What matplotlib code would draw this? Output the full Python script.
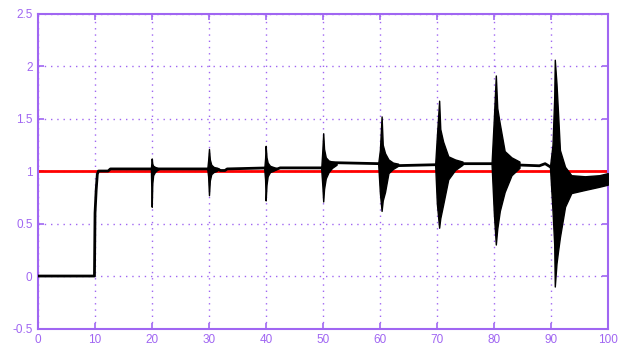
import matplotlib
matplotlib.use("Agg")
import matplotlib.pyplot as plt

# --- data ---
# reference (set point)
ref_t = [0, 100]
ref_y = [1.0, 1.0]

# slow response level between the disturbance bursts
base_t = [0, 9.9, 10.0, 10.2, 10.4, 10.6, 12.3, 12.7, 31.5, 32.0, 32.8, 33.2,
          40.5, 41.5, 42.5, 49.8, 51.5, 60.0, 62.0, 69.8, 72.0, 80.0, 83.0,
          88.0, 89.0, 89.9]
base_y = [0, 0, 0.60, 0.82, 0.97, 1.00, 1.00, 1.02, 1.02, 1.005, 1.005, 1.02,
          1.03, 1.01, 1.03, 1.03, 1.08, 1.07, 1.05, 1.06, 1.07, 1.07, 1.06,
          1.05, 1.07, 1.04]

# oscillation bursts: time, upper envelope, lower envelope
b20_t = [19.8, 19.95, 20.05, 20.2, 20.5, 20.9, 21.3]
b20_hi = [1.02, 1.12, 1.07, 1.05, 1.04, 1.03, 1.02]
b20_lo = [1.02, 0.66, 0.88, 0.96, 0.99, 1.01, 1.02]

b30_t = [29.7, 29.85, 30.0, 30.15, 30.4, 30.8, 31.3, 31.8]
b30_hi = [1.02, 1.10, 1.21, 1.11, 1.06, 1.04, 1.03, 1.02]
b30_lo = [1.02, 0.95, 0.77, 0.91, 0.97, 0.99, 1.00, 1.02]

b40_t = [39.7, 39.85, 39.95, 40.1, 40.3, 40.7, 41.2, 41.8]
b40_hi = [1.02, 1.12, 1.24, 1.13, 1.08, 1.05, 1.04, 1.03]
b40_lo = [1.02, 0.92, 0.72, 0.87, 0.95, 0.99, 1.00, 1.02]

b50_t = [49.7, 49.9, 50.05, 50.2, 50.5, 51.0, 51.6, 52.4]
b50_hi = [1.02, 1.20, 1.36, 1.21, 1.13, 1.10, 1.09, 1.08]
b50_lo = [1.02, 0.86, 0.71, 0.83, 0.93, 0.99, 1.03, 1.06]

b60_t = [59.7, 60.0, 60.3, 60.5, 60.9, 61.5, 62.3, 63.2]
b60_hi = [1.07, 1.20, 1.52, 1.25, 1.17, 1.11, 1.08, 1.07]
b60_lo = [1.07, 0.79, 0.62, 0.72, 0.80, 0.98, 1.02, 1.05]

b70_t = [69.7, 70.0, 70.4, 70.6, 71.1, 72.0, 73.2, 74.5]
b70_hi = [1.06, 1.33, 1.67, 1.40, 1.28, 1.14, 1.11, 1.09]
b70_lo = [1.06, 0.69, 0.46, 0.55, 0.68, 0.92, 1.01, 1.06]

b80_t = [79.6, 80.0, 80.35, 80.6, 81.05, 81.9, 83.1, 84.5]
b80_hi = [1.07, 1.50, 1.91, 1.60, 1.45, 1.19, 1.13, 1.09]
b80_lo = [1.07, 0.60, 0.30, 0.45, 0.62, 0.80, 0.96, 1.03]

b90_t = [89.85, 90.3, 90.6, 90.7, 91.0, 91.3, 91.6, 92.5, 93.6, 96.0, 98.5, 100.0]
b90_hi = [1.04, 1.25, 1.70, 2.06, 1.83, 1.52, 1.20, 1.04, 0.96, 0.95, 0.96, 0.98]
b90_lo = [1.04, 0.62, 0.30, -0.10, 0.12, 0.25, 0.37, 0.66, 0.79, 0.82, 0.85, 0.87]

x_ticks = [0, 10, 20, 30, 40, 50, 60, 70, 80, 90, 100]
y_ticks = [-0.5, 0, 0.5, 1, 1.5, 2, 2.5]
y_labels = ["-0.5", "0", "0.5", "1", "1.5", "2", "2.5"]

PURPLE = "#a066f2"

plt.rcParams["font.family"] = ["Liberation Sans", "DejaVu Sans"]

fig = plt.figure(figsize=(6.24, 3.51), dpi=100)
ax = fig.add_axes([0.061, 0.064, 0.913, 0.8975])

ax.plot(ref_t, ref_y, color="#ff0000", lw=2.0, zorder=2)
ax.plot(base_t, base_y, color="black", lw=2.0, zorder=3)

bursts = [(b20_t, b20_hi, b20_lo), (b30_t, b30_hi, b30_lo),
          (b40_t, b40_hi, b40_lo), (b50_t, b50_hi, b50_lo),
          (b60_t, b60_hi, b60_lo), (b70_t, b70_hi, b70_lo),
          (b80_t, b80_hi, b80_lo), (b90_t, b90_hi, b90_lo)]
for t, hi, lo in bursts:
    ax.fill_between(t, lo, hi, color="black", lw=1.0, edgecolor="black", zorder=3)

ax.set_xlim(0, 100)
ax.set_ylim(-0.5, 2.5)
ax.set_xticks(x_ticks)
ax.set_xticklabels([str(v) for v in x_ticks])
ax.set_yticks(y_ticks)
ax.set_yticklabels(y_labels)

ax.grid(True, color=PURPLE, linestyle=(0, (1, 3.5)), lw=1.0)
ax.set_axisbelow(True)
ax.tick_params(direction="in", length=4, width=1.2, colors=PURPLE,
               top=True, right=True, labelsize=8.5, pad=4)
for sp in ax.spines.values():
    sp.set_color(PURPLE)
    sp.set_linewidth(1.5)

fig.savefig("out.png", dpi=100)
